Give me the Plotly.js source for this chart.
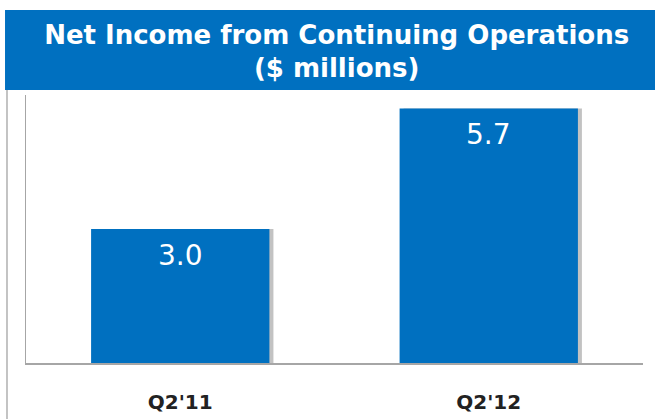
<!DOCTYPE html>
<html>
<head>
<meta charset="utf-8">
<script src="https://cdn.plot.ly/plotly-3.0.1.min.js"></script>
<style>html,body{margin:0;padding:0;background:#fff;}#chart{width:655px;height:419px;}</style>
</head>
<body>
<div id="chart"></div>
<script>
var categories = ["Q2'11", "Q2'12"];
var values = [3.0, 5.7];
var valueLabels = ["3.0", "5.7"];
var chartTitle = "Net Income from Continuing Operations<br>($ millions)";

var BLUE = "#0070C0";
var FONT = "DejaVu Sans, Verdana, sans-serif";
var barWidth = 0.578;

var shadow = {
  type: "bar", x: categories, y: values,
  width: barWidth, offset: -barWidth / 2 + 0.013,
  marker: { color: "rgba(120,120,120,0.45)" },
  hoverinfo: "skip", showlegend: false
};
var bars = {
  type: "bar", x: categories, y: values,
  width: barWidth, offset: -barWidth / 2,
  marker: { color: BLUE },
  showlegend: false
};

var annotations = categories.map(function (c, i) {
  return {
    x: c, y: values[i], xref: "x", yref: "y",
    text: valueLabels[i], showarrow: false,
    yanchor: "top", yshift: -8,
    font: { family: FONT, size: 28, color: "#ffffff" }
  };
});

var layout = {
  width: 655, height: 419,
  margin: { l: 26, r: 12, t: 95, b: 56, pad: 0 },
  paper_bgcolor: "#ffffff", plot_bgcolor: "#ffffff",
  barmode: "overlay",
  title: {
    text: chartTitle,
    x: 0.514, xanchor: "center",
    y: 0.896, yanchor: "middle", yref: "container",
    font: { family: FONT, size: 26, color: "#ffffff", weight: "bold" }
  },
  xaxis: {
    type: "category", range: [-0.5, 1.5],
    showline: true, linecolor: "#A6A6A6", linewidth: 1.5,
    showgrid: false, zeroline: false, ticks: "",
    tickfont: { family: FONT, size: 20, color: "#222222", weight: "bold" },
    ticklabelstandoff: 20
  },
  yaxis: {
    range: [0, 6],
    showline: true, linecolor: "#A6A6A6", linewidth: 1.5,
    showgrid: false, zeroline: false, showticklabels: false, ticks: ""
  },
  annotations: annotations,
  shapes: [
    { type: "rect", layer: "below", xref: "paper", yref: "paper",
      x0: -0.034, x1: 1.03, y0: 1.0187, y1: 1.317,
      fillcolor: BLUE, line: { width: 0 } },
    { type: "line", layer: "below", xref: "paper", yref: "paper",
      x0: -0.0308, x1: -0.0308, y0: 1.0187, y1: -0.25,
      line: { color: "#B0B0B0", width: 1.5 } }
  ]
};

Plotly.newPlot("chart", [shadow, bars], layout, { displayModeBar: false, staticPlot: true });
</script>
</body>
</html>
